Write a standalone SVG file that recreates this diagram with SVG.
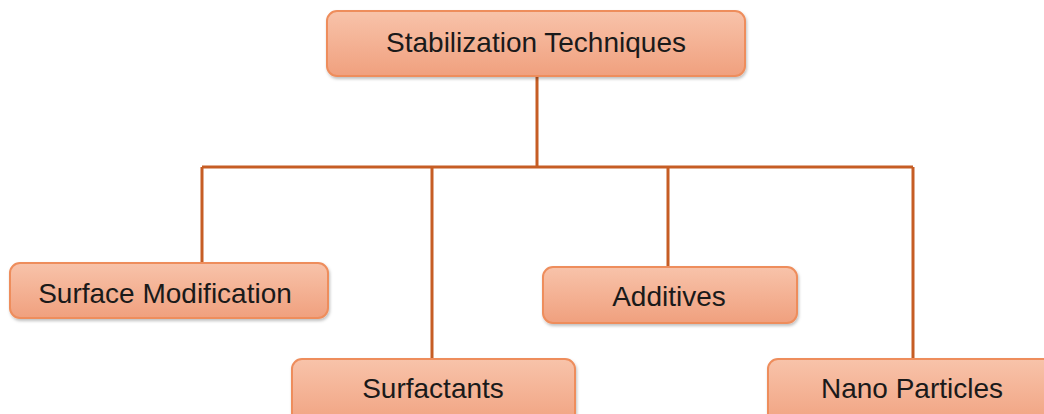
<svg xmlns="http://www.w3.org/2000/svg" width="1044" height="414" viewBox="0 0 1044 414">
<defs>
<linearGradient id="g" x1="0" y1="0" x2="0" y2="1">
<stop offset="0" stop-color="#f8c3aa"/>
<stop offset="1" stop-color="#f0a07e"/>
</linearGradient>
<filter id="sh" x="-5%" y="-10%" width="110%" height="130%">
<feDropShadow dx="1" dy="2" stdDeviation="1.5" flood-color="#000" flood-opacity="0.25"/>
</filter>
</defs>
<style>
.box{fill:url(#g);stroke:#ee8d5c;stroke-width:2;filter:url(#sh)}
.t{font-family:"Liberation Sans",Arial,sans-serif;font-size:28px;fill:#1a1a1a;text-anchor:middle}
.c{fill:none;stroke:#c65d24;stroke-width:3}
</style>
<rect width="1044" height="414" fill="#fff"/>
<g id="connectors">
<path class="c" d="M537 77V167M202 167H913M202 167V263M432 167V359M668 167V267M913 167V359"/>
</g>
<g id="n-root"><rect class="box" x="327" y="11" width="418" height="65" rx="10"/><text class="t" x="536" y="52">Stabilization Techniques</text></g>
<g id="n-surface"><rect class="box" x="10" y="263" width="318" height="55" rx="10"/><text class="t" x="165" y="303">Surface Modification</text></g>
<g id="n-surfactants"><rect class="box" x="292" y="359" width="283" height="70" rx="10"/><text class="t" x="433" y="398">Surfactants</text></g>
<g id="n-additives"><rect class="box" x="543" y="267" width="254" height="56" rx="10"/><text class="t" x="669" y="306">Additives</text></g>
<g id="n-nano"><rect class="box" x="768" y="359" width="290" height="70" rx="10"/><text class="t" x="912" y="398">Nano Particles</text></g>
</svg>
